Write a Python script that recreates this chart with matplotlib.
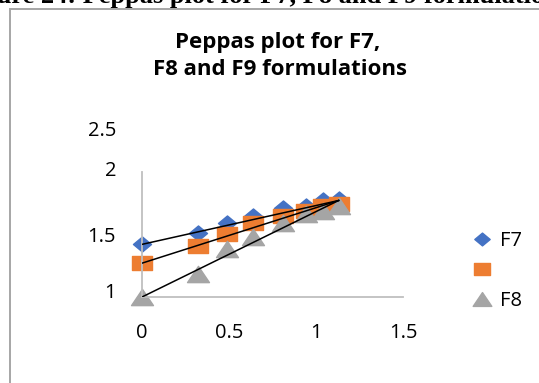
import matplotlib
matplotlib.use("Agg")
import matplotlib.pyplot as plt
import matplotlib.transforms as mtransforms
from matplotlib.patches import Rectangle
from matplotlib.path import Path
import numpy as np

# log t (x) and log % released (y) for each formulation
log_t = [0, 0.32, 0.49, 0.64, 0.81, 0.94, 1.04, 1.13]
f7 = [1.42, 1.51, 1.59, 1.65, 1.71, 1.73, 1.77, 1.78]
f8 = [1.27, 1.41, 1.50, 1.59, 1.65, 1.69, 1.73, 1.74]
f9 = [1.00, 1.18, 1.38, 1.48, 1.59, 1.66, 1.69, 1.73]
legend_labels = ["F7", "", "F8"]

# straight fit lines drawn from each first point to a common end
fit_x = [0, 1.13]
fit_end = 1.77

x_ticks = [0, 0.5, 1, 1.5]
y_ticks = [1, 1.5, 2, 2.5]

blue, orange, grey = "#4472C4", "#ED7D31", "#A5A5A5"

# slightly wide marker shapes
diamond = Path([(-1.2, 0), (0, 1), (1.2, 0), (0, -1), (-1.2, 0)], closed=True)
square = Path([(-1.4, -1), (1.4, -1), (1.4, 1), (-1.4, 1), (-1.4, -1)], closed=True)
triangle = Path([(0, 1), (-1.35, -1), (1.35, -1), (0, 1)], closed=True)

plt.rcParams["font.family"] = ["Open Sans", "DejaVu Sans"]

fig = plt.figure(figsize=(5.39, 3.83), dpi=100)
W, H = 539, 383

# chart frame
fig.patches.append(Rectangle((10 / W, -0.1), 1.2, 1.1 - 9 / H, transform=fig.transFigure,
                             fill=False, edgecolor="#a6a6a6", linewidth=1.4))

# caption line above the chart (cut off at the top)
fig.text(0.49, 1 - 3 / H, "Figure 24: Peppas plot for F7, F8 and F9 formulations",
         fontfamily="Liberation Serif", fontweight="bold", fontsize=19,
         ha="center", va="baseline")

ax = fig.add_axes([142 / W, 1 - 297 / H, (403 - 142) / W, (297 - 109) / H])
ax.set_xlim(0, 1.5)
ax.set_ylim(1, 2.5)

h7, = ax.plot(log_t, f7, linestyle="none", marker=diamond, markersize=13,
              color=blue, zorder=2, clip_on=False)
h8, = ax.plot(log_t, f8, linestyle="none", marker=square, markersize=14.4,
              color=orange, zorder=2, clip_on=False)
h9, = ax.plot(log_t, f9, linestyle="none", marker=triangle, markersize=15.8,
              color=grey, zorder=2, clip_on=False)

for series in (f7, f8, f9):
    ax.plot(fit_x, [series[0], fit_end], color="black", linewidth=1.1, zorder=3)

ax.set_xticks(x_ticks)
ax.set_xticklabels(["0", "0.5", "1", "1.5"])
ax.set_yticks(y_ticks)
ax.set_yticklabels(["1", "1.5", "2", "2.5"])
ax.tick_params(length=0, pad=18.7, labelsize=14.5)

for side in ("top", "right"):
    ax.spines[side].set_visible(False)
for side in ("left", "bottom"):
    ax.spines[side].set_color("#bfbfbf")
    ax.spines[side].set_linewidth(1.3)
ax.spines["left"].set_bounds(1, 2)

# nudge a couple of y labels the way the chart lays them out
shifts = {0: 7, 2: 3, 3: -19}
for i, lab in enumerate(ax.get_yticklabels()):
    if i in shifts:
        off = mtransforms.ScaledTranslation(0, shifts[i] / 100, fig.dpi_scale_trans)
        lab.set_transform(lab.get_transform() + off)

# title
fig.text(278 / W, 1 - 48 / H, "Peppas plot for F7,", fontweight="bold", fontsize=16,
         ha="center", va="baseline")
fig.text(280 / W, 1 - 75 / H, "F8 and F9 formulations", fontweight="bold", fontsize=16,
         ha="center", va="baseline")

fig.legend([h7, h8, h9], legend_labels, loc="upper left", bbox_to_anchor=(472 / W, 1 - 231 / H),
           frameon=False, fontsize=14.5, handlelength=1, handletextpad=0.4, borderpad=0,
           borderaxespad=0, labelspacing=0.5, markerscale=0.85)

fig.savefig("out.png", dpi=100)
